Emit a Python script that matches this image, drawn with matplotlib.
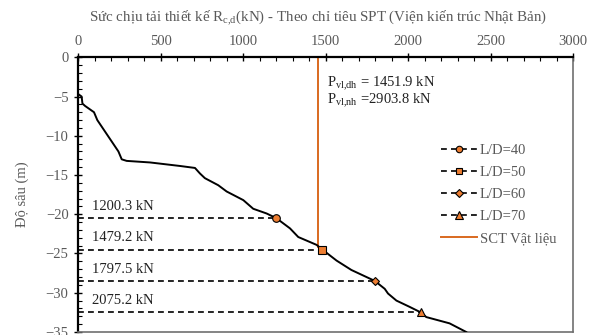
import numpy as np
import matplotlib
matplotlib.use('Agg')
import matplotlib.pyplot as plt
from matplotlib.ticker import MultipleLocator

plt.rcParams['font.family'] = ['Liberation Serif', 'DejaVu Serif']
plt.rcParams['mathtext.fontset'] = 'custom'
plt.rcParams['mathtext.rm'] = 'Liberation Serif'

# design capacity curve (kN) vs depth (m)
capacity = [0, 20, 25, 41, 95, 115, 243, 263, 293, 435, 617, 707, 737, 767, 848,
            899, 1000, 1060, 1141, 1200.3, 1283, 1333, 1444, 1479.2, 1565, 1655,
            1767, 1797.5, 1857, 1877, 1928, 2008, 2075.2, 2109, 2250, 2351]
depth = [-4.7, -5.0, -5.9, -6.2, -7.0, -8.0, -12.0, -13.0, -13.2, -13.4, -13.85,
         -14.1, -14.8, -15.4, -16.3, -17.1, -18.2, -19.3, -19.9, -20.5, -21.8,
         -22.9, -23.9, -24.5, -25.9, -27.1, -28.2, -28.5, -29.5, -30.1, -31.0,
         -31.8, -32.5, -33.1, -33.9, -35.0]

# pile length / diameter cases
ld_labels = ['L/D=40', 'L/D=50', 'L/D=60', 'L/D=70']
ld_capacity = [1200.3, 1479.2, 1797.5, 2075.2]
ld_depth = [-20.5, -24.5, -28.5, -32.5]
ld_markers = ['o', 's', 'D', '^']
ld_msize = [5.5, 5.5, 4.5, 6]

# material strength
p_vl_dh = 1451.9
p_vl_nh = 2903.8
p_vl_depth = -24.2

orange = '#ED7D31'
gray = '#595959'
fs = 10.5

fig = plt.figure(figsize=(5.97, 3.35), dpi=100)
ax = fig.add_axes([0.1312, 0.009, 0.8291, 0.820])

ax.plot(capacity, depth, color='black', lw=1.4, zorder=3)

for lab, c, d, m, ms in zip(ld_labels, ld_capacity, ld_depth, ld_markers, ld_msize):
    ax.plot([0, c], [d, d], color='black', ls=(0, (3.5, 2.5)), lw=1.2,
            marker=m, markevery=[1], ms=ms, mfc=orange, mec='black', mew=0.8,
            label=lab, zorder=4)
    ax.text(80, d + 1.5, '%.1f kN' % c, fontsize=fs, color='#222222', va='center')

ax.plot([p_vl_dh, p_vl_dh], [0, p_vl_depth], color='#D9691F', lw=1.4,
        label='SCT Vật liệu', zorder=2)

ax.text(1510, -3.4, r'P$_{\mathrm{vl{,}dh}}$ = %.1f kN' % p_vl_dh, fontsize=fs,
        color='#222222', va='center')
ax.text(1510, -5.5, r'P$_{\mathrm{vl{,}nh}}$ =%.1f kN' % p_vl_nh, fontsize=fs,
        color='#222222', va='center')

ax.set_xlim(0, 3000)
ax.set_ylim(-35, 0)
ax.xaxis.tick_top()
ax.xaxis.set_major_locator(MultipleLocator(500))
ax.xaxis.set_minor_locator(MultipleLocator(100))
ax.yaxis.set_major_locator(MultipleLocator(5))
ax.yaxis.set_minor_locator(MultipleLocator(1))
ax.tick_params(which='major', direction='inout', length=6, width=1.0,
               labelsize=fs, labelcolor=gray, pad=4)
ax.tick_params(which='minor', direction='in', length=3, width=0.8)

for s in ['top', 'left']:
    ax.spines[s].set_linewidth(1.6)
    ax.spines[s].set_color('black')
for s in ['right', 'bottom']:
    ax.spines[s].set_linewidth(1.2)
    ax.spines[s].set_color('#707070')

ax.set_ylabel('Độ sâu (m)', fontsize=fs, color=gray)
ax.yaxis.set_label_coords(-0.100, 0.5)

fig.text(0.533, 0.946,
         r'Sức chịu tải thiết kế R$_{\mathrm{c{,}d}}$(kN) - Theo chỉ tiêu SPT (Viện kiến trúc Nhật Bản)',
         fontsize=10.8, color=gray, ha='center', va='center')

leg = ax.legend(loc='upper left', bbox_to_anchor=(0.717, 0.71), frameon=False,
                fontsize=fs, handlelength=2.5, handletextpad=0.2,
                labelspacing=0.6, borderpad=0, numpoints=1, markerscale=0.85)
for t in leg.get_texts():
    t.set_color(gray)

fig.savefig('out.png', dpi=100)
